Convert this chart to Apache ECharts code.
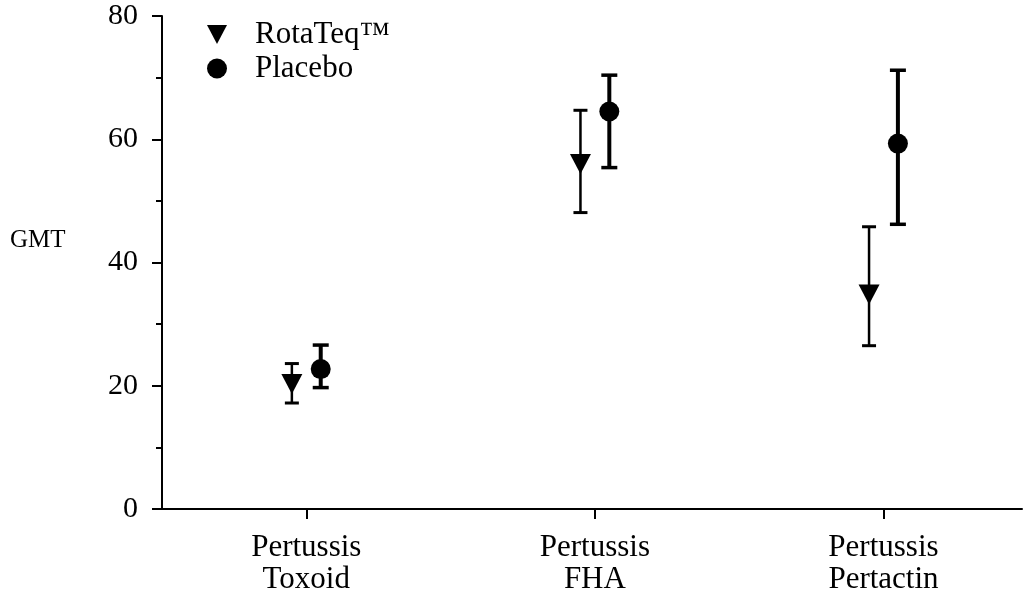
<!DOCTYPE html>
<html>
<head>
<meta charset="utf-8">
<script src="https://cdn.jsdelivr.net/npm/echarts@6/dist/echarts.min.js"></script>
<style>html,body{margin:0;padding:0;background:#fff;}#chart{width:1023px;height:601px;}</style>
</head>
<body>
<div id="chart"></div>
<script>
const categories = ['Pertussis\nToxoid', 'Pertussis\nFHA', 'Pertussis\nPertactin'];
const categoryPos = [1, 2, 3];
const yTicks = [0, 20, 40, 60, 80];
const rotateqName = 'RotaTeq™';
const placeboName = 'Placebo';
const rotateqGMT = [20.3, 56.0, 34.8];
const rotateqLow = [17.2, 48.1, 26.5];
const rotateqHigh = [23.6, 64.7, 45.8];
const placeboGMT = [22.7, 64.5, 59.3];
const placeboLow = [19.7, 55.4, 46.2];
const placeboHigh = [26.6, 70.4, 71.2];

const FONT = "'Liberation Serif', 'Times New Roman', serif";
const OFFSET = 0.05;
const triPath = 'path://M0,0L20,0L10,19Z';

function pts(vals, off) { return vals.map((v, i) => [categoryPos[i] + off, v]); }
function bars(lo, hi, off) { return lo.map((v, i) => [categoryPos[i] + off, v, hi[i]]); }

function errRender(stemW, capW, capT) {
  return function (params, api) {
    const x = api.value(0);
    const lo = api.coord([x, api.value(1)]);
    const hi = api.coord([x, api.value(2)]);
    const st = { stroke: '#000', lineWidth: stemW, fill: null };
    const cs = { stroke: '#000', lineWidth: capT, fill: null };
    return {
      type: 'group',
      children: [
        { type: 'line', shape: { x1: lo[0], y1: lo[1], x2: hi[0], y2: hi[1] }, style: st },
        { type: 'line', shape: { x1: lo[0] - capW / 2, y1: lo[1], x2: lo[0] + capW / 2, y2: lo[1] }, style: cs },
        { type: 'line', shape: { x1: hi[0] - capW / 2, y1: hi[1], x2: hi[0] + capW / 2, y2: hi[1] }, style: cs }
      ]
    };
  };
}

const chart = echarts.init(document.getElementById('chart'), null, { renderer: 'canvas' });
chart.setOption({
  animation: false,
  backgroundColor: '#fff',
  textStyle: { fontFamily: FONT, color: '#000' },
  title: {
    text: 'GMT',
    left: 10,
    top: 227,
    padding: 0,
    textStyle: { fontFamily: FONT, fontSize: 25, fontWeight: 'normal', color: '#000', lineHeight: 26 }
  },
  grid: { left: 162, right: 1, top: 16, bottom: 92, containLabel: false },
  legend: {
    orient: 'vertical',
    left: 207,
    top: 19,
    padding: 0,
    itemWidth: 20,
    itemHeight: 20,
    itemGap: 3,
    selectedMode: false,
    textStyle: { fontFamily: FONT, fontSize: 31, color: '#000', padding: [0, 0, 0, 23] },
    data: [
      { name: rotateqName, icon: triPath },
      { name: placeboName, icon: 'circle' }
    ]
  },
  xAxis: {
    type: 'value',
    min: 0.5,
    max: 3.48,
    splitLine: { show: false },
    axisLine: { show: true, lineStyle: { color: '#000', width: 2 } },
    axisTick: { show: true, customValues: categoryPos, length: 10, lineStyle: { color: '#000', width: 2 } },
    axisLabel: {
      customValues: categoryPos,
      margin: 23,
      fontSize: 31,
      lineHeight: 32,
      fontFamily: FONT,
      color: '#000',
      formatter: function (v) { const i = categoryPos.indexOf(Math.round(v)); return i >= 0 ? categories[i] : ''; }
    }
  },
  yAxis: {
    type: 'value',
    min: 0,
    max: 80,
    interval: 20,
    splitLine: { show: false },
    axisLine: { show: true, lineStyle: { color: '#000', width: 2 } },
    axisTick: { show: true, length: 10, lineStyle: { color: '#000', width: 2 } },
    minorTick: { show: true, splitNumber: 2, length: 6, lineStyle: { color: '#000', width: 2 } },
    axisLabel: { margin: 24, fontSize: 30, fontFamily: FONT, color: '#000',
      formatter: function (v) { return yTicks.indexOf(v) >= 0 ? String(v) : ''; } }
  },
  series: [
    { name: 'RotaTeq err', type: 'custom', renderItem: errRender(2.5, 14, 3), data: bars(rotateqLow, rotateqHigh, -OFFSET), z: 2, silent: true },
    { name: 'Placebo err', type: 'custom', renderItem: errRender(4, 16, 3.5), data: bars(placeboLow, placeboHigh, OFFSET), z: 2, silent: true },
    { name: rotateqName, type: 'scatter', symbol: triPath, symbolSize: [21, 20], itemStyle: { color: '#000', opacity: 1 }, data: pts(rotateqGMT, -OFFSET), z: 3 },
    { name: placeboName, type: 'scatter', symbol: 'circle', symbolSize: 20, itemStyle: { color: '#000', opacity: 1 }, data: pts(placeboGMT, OFFSET), z: 3 }
  ]
});
</script>
</body>
</html>
